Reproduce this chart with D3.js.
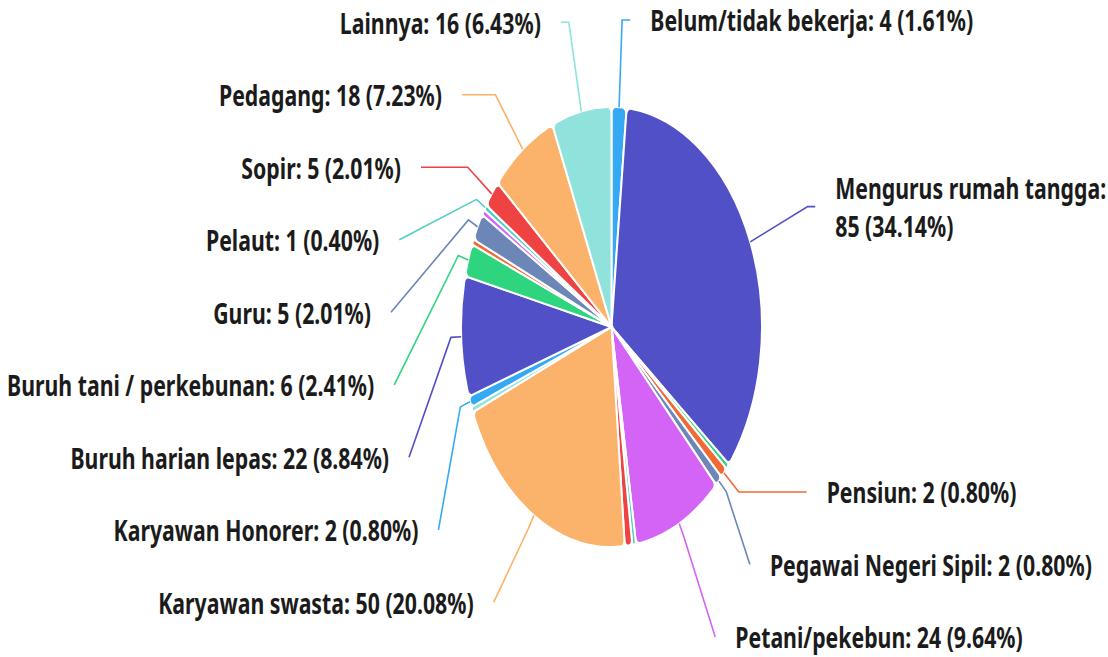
<!doctype html>
<meta charset="utf-8">
<title>Pekerjaan</title>
<script src="https://cdn.jsdelivr.net/npm/d3@7"></script>
<style>
    body { margin: 0; background: #fff; }
    text { font-family: "Noto Sans", sans-serif; font-weight: bold; fill: #1b1b1b; }
</style>
<body>
<svg id="chart" width="1108" height="657"></svg>

<script>

    // slices in clockwise order from 12 o'clock; '' = slice whose label is hidden in the source
    var jobs = ['Belum/tidak bekerja', 'Mengurus rumah tangga', '', 'Pensiun', 'Pegawai Negeri Sipil',
        'Petani/pekebun', '', '', 'Karyawan swasta', '', 'Karyawan Honorer', 'Buruh harian lepas',
        'Buruh tani / perkebunan', '', 'Guru', '', 'Pelaut', 'Sopir', 'Pedagang', 'Lainnya'];
    var counts = [4, 85, 1, 2, 2, 24, 1, 2, 50, 1, 2, 22, 6, 1, 5, 1, 1, 5, 18, 16];
    var palette = ['#36a9f5', '#5150c6', '#2ed47e', '#f06a35', '#6b86b7',
        '#d464f6', '#4fcfc6', '#ef4343', '#fbb26b', '#8fe3dc'];

    var W = 1108
            , cx = 611.5
            , cy = 327
            , R = 220          // pie radius (vertical)
            , sx = 0.684       // the whole picture is squeezed horizontally
            , len1 = 91        // first label line segment
            , len2 = 8
            , textGap = 20
            , rowGap = 72.5
            , topY = 20
            , bottomY = 637
            , rightPad = 16
            , tx = 0.76;       // horizontal squeeze of the label text

    var total = d3.sum(counts);
    var svg = d3.select('#chart');

    var pie = d3.pie().sort(null).value(function(d) { return d; });
    var arcs = pie(counts);

    var arc = d3.arc().innerRadius(0).outerRadius(R).cornerRadius(6);

    svg.append('g')
            .attr('transform', 'translate(' + cx + ',' + cy + ') scale(' + sx + ',1)')
            .selectAll('path')
            .data(arcs)
            .enter().append('path')
            .attr('d', arc)
            .attr('fill', function(d) { return palette[d.index % palette.length] })
            .attr('stroke', '#fff')
            .attr('stroke-width', 2)
            .attr('vector-effect', 'non-scaling-stroke');

    // label layout, roughly like echarts does it
    var rA = R + len1;
    var items = arcs.filter(function(d) { return jobs[d.index] !== '' }).map(function(d) {
        var mid = (d.startAngle + d.endAngle) / 2;
        return {
            i: d.index,
            mid: mid,
            dir: Math.sin(mid) >= 0 ? 1 : -1,
            dxNat: rA * Math.sin(mid),
            y: cy - rA * Math.cos(mid),
            text: jobs[d.index] + ': ' + counts[d.index] + ' (' + (counts[d.index] / total * 100).toFixed(2) + '%)'
        };
    });

    function layoutSide(list) {
        list.sort(function(a, b) { return a.y - b.y });
        var shifted = false;
        list.forEach(function(it, k) {
            var lo = k === 0 ? topY : list[k - 1].y + rowGap;
            if (it.y < lo) { it.y = lo; shifted = true; }
        });
        for (var k = list.length - 1; k >= 0; k--) {
            var hi = k === list.length - 1 ? bottomY : list[k + 1].y - rowGap;
            if (list[k].y > hi) { list[k].y = hi; shifted = true; }
        }
        list.forEach(function(it) { it.xOff = Math.abs(it.dxNat); });
        if (!shifted) return;
        [list.filter(function(it) { return it.y <= cy }), list.filter(function(it) { return it.y > cy })]
                .forEach(function(semi) {
                    if (!semi.length) return;
                    var ext = semi.reduce(function(a, b) { return Math.abs(b.y - cy) >= Math.abs(a.y - cy) ? b : a });
                    var dy = Math.abs(ext.y - cy), dx = Math.abs(ext.dxNat);
                    var rB = dx < rA ? Math.sqrt(dy * dy / (1 - dx * dx / rA / rA)) : rA;
                    semi.forEach(function(it) {
                        var d = Math.abs(it.y - cy);
                        it.xOff = Math.sqrt(Math.max(0, 1 - d * d / rB / rB)) * rA;
                    });
                });
    }

    layoutSide(items.filter(function(it) { return it.dir > 0 }));
    layoutSide(items.filter(function(it) { return it.dir < 0 }));

    items.forEach(function(it) {
        it.endX = cx + it.dir * (it.xOff * sx + len2);
    });

    var labels = svg.append('g')
            .selectAll('text')
            .data(items)
            .enter().append('text')
            .attr('font-size', 28)
            .attr('text-anchor', function(d) { return d.dir > 0 ? 'start' : 'end' })
            .attr('dominant-baseline', 'central')
            .text(function(d) { return d.text });

    // labels running off the right edge: pull in a little, or break after the colon
    labels.each(function(d) {
        var x0 = d.endX + d.dir * textGap;
        var w = this.getComputedTextLength() * tx;
        var over = x0 + w - (W - rightPad);
        if (d.dir > 0 && over > 0) {
            if (over < 60) {
                d.endX -= over;
            } else {
                var parts = d.text.split(': ');
                var el = d3.select(this).text(null);
                el.append('tspan').attr('x', 0).attr('dy', '-0.68em').text(parts[0] + ':');
                el.append('tspan').attr('x', 0).attr('dy', '1.36em').text(parts.slice(1).join(': '));
            }
        }
    });

    labels.attr('transform', function(d) {
        return 'translate(' + (d.endX + d.dir * textGap) + ',' + d.y + ') scale(' + tx + ',1)';
    });

    items.forEach(function(it) {
        var nx = Math.sin(it.mid), ny = -Math.cos(it.mid);
        var s = [cx + sx * R * nx, cy + R * ny];
        var t = ny !== 0 ? (it.y - s[1]) / ny : Infinity;
        var radial = t > 0 && t <= 95;
        if (!radial) t = 15;
        var e = [s[0] + sx * t * nx, radial ? it.y : s[1] + t * ny];
        it.points = [s, e, [it.endX, it.y]];
    });

    svg.insert('g', 'g:last-child')
            .selectAll('polyline')
            .data(items)
            .enter().append('polyline')
            .attr('points', function(d) { return d.points.map(function(p) { return p.join(',') }).join(' ') })
            .attr('fill', 'none')
            .attr('stroke', function(d) { return palette[d.i % palette.length] })
            .attr('stroke-width', 1.6);

</script>
</body>
</html>
